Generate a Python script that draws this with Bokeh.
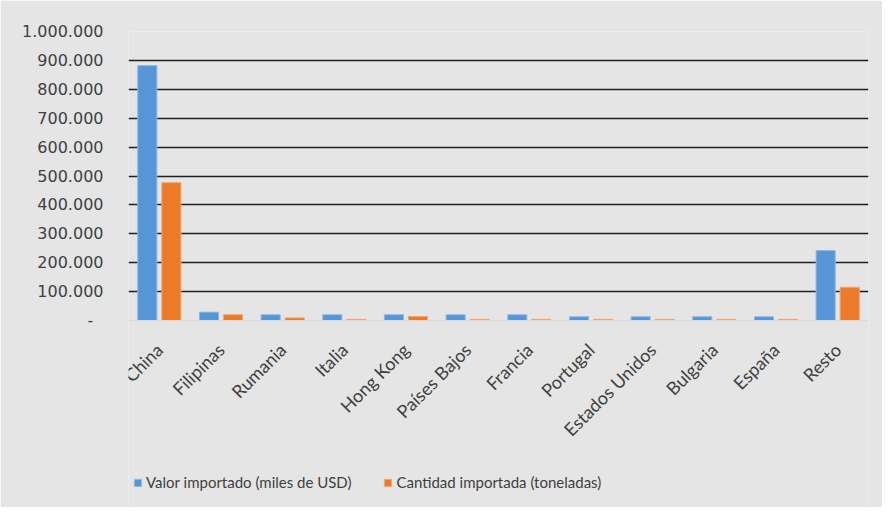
import math
from bokeh.plotting import figure
from bokeh.models import (FactorRange, Range1d, FixedTicker, Legend, LegendItem,
                          ColumnDataSource)
from bokeh.transform import dodge
from bokeh.embed import file_html
from bokeh.resources import INLINE

categories = ["China", "Filipinas", "Rumania", "Italia", "Hong Kong", "Países Bajos",
              "Francia", "Portugal", "Estados Unidos", "Bulgaria", "España", "Resto"]
valor = [882000, 29000, 20000, 20000, 20000, 20000, 20000, 13000, 13000, 13000, 13000, 242000]
cantidad = [477000, 20000, 9000, 4000, 14000, 4000, 4000, 4000, 4000, 4000, 4000, 115000]
series_names = ["Valor importado (miles de USD)", "Cantidad importada (toneladas)"]
y_ticks = [0, 100000, 200000, 300000, 400000, 500000, 600000, 700000, 800000, 900000, 1000000]
y_tick_labels = ["-\u00a0\u00a0", "100.000", "200.000", "300.000", "400.000", "500.000",
                 "600.000", "700.000", "800.000", "900.000", "1.000.000"]

BLUE, BLUE_EDGE = "#5796D6", "#8DB9E6"
ORANGE, ORANGE_EDGE = "#EC7A2B", "#F3A670"
BG = "#E5E5E5"

# layout (pixels): frame spans the whole height below the top border; the value axis
# 0..1e6 occupies the upper part, the category labels and legend sit below 0.
W, H = 882, 507
TOP, ZERO_PX = 31, 320
y_max = 1000000
y_min = y_max - y_max * (H - TOP) / (ZERO_PX - TOP)

src = ColumnDataSource(dict(cat=categories, valor=valor, cantidad=cantidad))

p = figure(x_range=FactorRange(*categories), y_range=Range1d(y_min, y_max),
           width=W, height=H, output_backend="svg", toolbar_location=None,
           min_border_left=128, min_border_right=14, min_border_top=TOP, min_border_bottom=0)
p.background_fill_color = BG
p.border_fill_color = BG
p.outline_line_color = None

r1 = p.vbar(x=dodge("cat", -0.195, range=p.x_range), top="valor", bottom=0, width=0.31,
            source=src, fill_color=BLUE, line_color=BLUE_EDGE, line_width=1)
r2 = p.vbar(x=dodge("cat", 0.195, range=p.x_range), top="cantidad", bottom=0, width=0.31,
            source=src, fill_color=ORANGE, line_color=ORANGE_EDGE, line_width=1)

# y axis
p.yaxis.ticker = FixedTicker(ticks=y_ticks)
p.yaxis.major_label_overrides = {t: l for t, l in zip(y_ticks, y_tick_labels)}
p.yaxis.axis_line_color = None
p.yaxis.major_tick_line_color = None
p.yaxis.minor_tick_line_color = None
p.yaxis.major_tick_out = 0
p.yaxis.major_tick_in = 0
p.yaxis.major_label_standoff = 25
p.yaxis.major_label_text_font = "DejaVu Sans"
p.yaxis.major_label_text_font_size = "16px"
p.yaxis.major_label_text_color = "#404040"

p.ygrid.ticker = FixedTicker(ticks=y_ticks[1:])
p.ygrid.grid_line_color = "#202020"
p.ygrid.grid_line_width = 1.5
p.xgrid.grid_line_color = None

# x axis drawn at value 0
p.xaxis.fixed_location = 0
p.xaxis.axis_line_color = "#D3DCE6"
p.xaxis.axis_line_width = 1
p.xaxis.major_tick_line_color = None
p.xaxis.minor_tick_line_color = None
p.xaxis.major_tick_out = 0
p.xaxis.major_tick_in = 0
p.xaxis.major_label_orientation = math.pi / 4
p.xaxis.major_label_standoff = 26
p.xaxis.major_label_text_font = "Lato"
p.xaxis.major_label_text_font_size = "18px"
p.xaxis.major_label_text_color = "#404040"

legend = Legend(items=[LegendItem(label=series_names[0], renderers=[r1]),
                       LegendItem(label=series_names[1], renderers=[r2])],
                location=(5, 16), orientation="horizontal",
                glyph_width=9, glyph_height=9, label_standoff=4, spacing=32,
                padding=0, margin=0, border_line_color=None, background_fill_alpha=0,
                label_text_font="Lato", label_text_font_size="15px", label_text_color="#404040")
p.add_layout(legend, "center")

open("out.html", "w").write(file_html(p, INLINE))
